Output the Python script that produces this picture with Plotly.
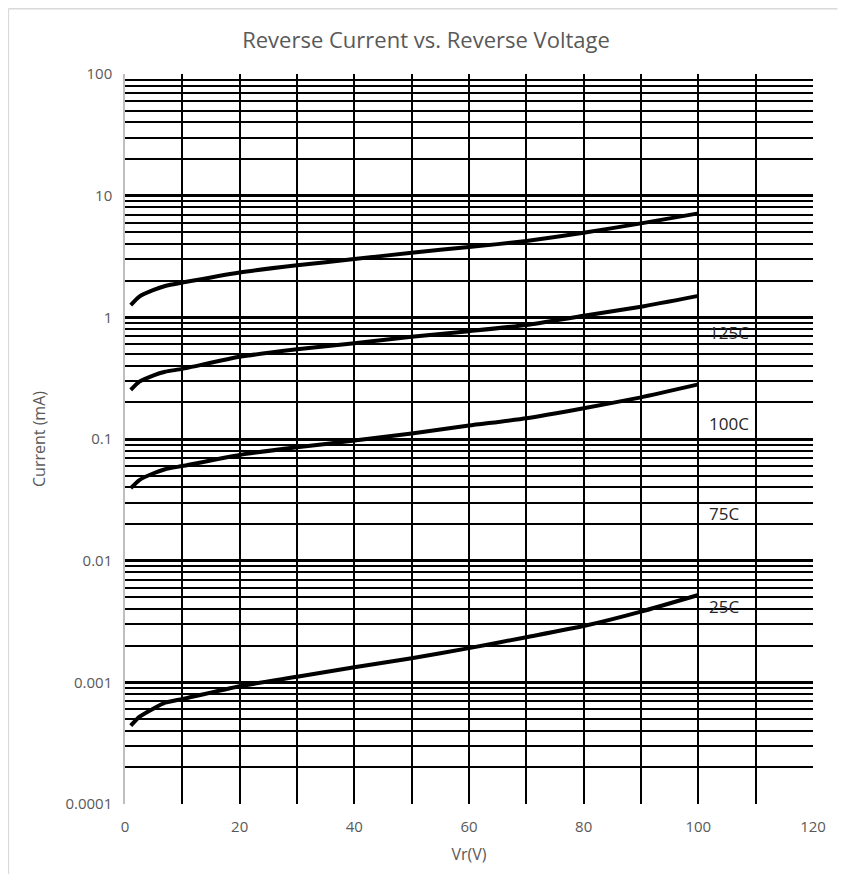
import math
import plotly.graph_objects as go

# ---- data ----
vr = [1, 2.5, 5, 7, 10, 20, 30, 40, 50, 60, 70, 80, 90, 100]
i_125 = [1.26, 1.48, 1.68, 1.81, 1.93, 2.34, 2.68, 3.01, 3.40, 3.78, 4.24, 4.95, 5.92, 7.15]
i_100 = [0.253, 0.296, 0.334, 0.357, 0.377, 0.474, 0.546, 0.611, 0.693, 0.77, 0.865, 1.03, 1.22, 1.50]
i_75 = [0.0394, 0.046, 0.0523, 0.0564, 0.060, 0.074, 0.0855, 0.097, 0.111, 0.129, 0.148, 0.179, 0.220, 0.281]
i_25 = [0.00044, 0.00052, 0.00061, 0.00068, 0.00073, 0.00093, 0.00111, 0.00133, 0.00158, 0.00191, 0.00235, 0.0029, 0.00381, 0.00522]

series_values = [i_125, i_100, i_75, i_25]

label_texts = ["125C", "100C", "75C", "25C"]
label_x = [101.5, 101.5, 101.5, 101.5]
label_y = [0.746, 0.135, 0.0245, 0.00419]

x_ticks = [0, 20, 40, 60, 80, 100, 120]
y_ticks = [1e-4, 1e-3, 1e-2, 1e-1, 1, 10, 100]
y_ticktext = ["0.0001", "0.001", "0.01", "0.1", "1", "10", "100"]
y_minor = [k * 10.0 ** d for d in range(-4, 2) for k in range(2, 10)]

GRAY = "#595959"
FONT = "Open Sans"
# figure sized to fit inside the page's default 8px body margin (no scrollbars)
W, H = 830, 866

fig = go.Figure()
for vals in series_values:
    fig.add_trace(go.Scatter(
        x=vr, y=vals, mode="lines",
        line=dict(color="black", width=4, shape="spline", smoothing=0.5),
        showlegend=False, hoverinfo="skip",
    ))

for t, lx, ly in zip(label_texts, label_x, label_y):
    fig.add_annotation(x=lx, y=math.log10(ly), yref="y", xref="x", text=t, showarrow=False,
                       xanchor="left", yanchor="middle",
                       font=dict(family=FONT, size=17, color="#262626"))

# plot area (in figure pixels)
L, R, T, B = 117.4, 805.5, 66, 796
pw, ph = R - L, B - T

# outer chart-area border: only its left and top edges are inside the view
bx0 = (0.75 - L) / pw
bx1 = (W - L) / pw
by1 = (B - 0.75) / ph
by0 = (B - H) / ph
fig.add_shape(type="line", xref="paper", yref="paper", x0=bx0, x1=bx0, y0=by0, y1=by1,
              line=dict(color="#d9d9d9", width=1.5), layer="below")
fig.add_shape(type="line", xref="paper", yref="paper", x0=bx0, x1=bx1, y0=by1, y1=by1,
              line=dict(color="#d9d9d9", width=1.5), layer="below")

fig.update_layout(
    width=W, height=H,
    margin=dict(l=L, r=W - R, t=T, b=H - B, pad=0),
    paper_bgcolor="white", plot_bgcolor="white",
    title=dict(text="Reverse Current vs. Reverse Voltage", x=418 / W, xref="container",
               y=(H - 32) / H, yref="container", yanchor="middle", xanchor="center",
               font=dict(family=FONT, size=22, color=GRAY)),
    font=dict(family=FONT, color=GRAY),
)

fig.update_xaxes(
    range=[0, 120], tickvals=x_ticks, showgrid=True, gridcolor="black", gridwidth=1.5,
    minor=dict(dtick=10, tick0=0, showgrid=True, gridcolor="black", gridwidth=1.5, ticks=""),
    zeroline=False, showline=False, ticks="", ticklabelstandoff=12,
    tickfont=dict(family=FONT, size=15, color=GRAY),
    title=dict(text="Vr(V)", font=dict(family=FONT, size=16, color=GRAY), standoff=13),
)
fig.update_yaxes(
    type="log", range=[-4, 2], tickvals=y_ticks, ticktext=y_ticktext,
    showgrid=True, gridcolor="black", gridwidth=2.5,
    minor=dict(tickvals=y_minor, showgrid=True, gridcolor="black", gridwidth=1.5, ticks=""),
    zeroline=False, showline=True, linecolor="#bfbfbf", linewidth=1.5,
    ticks="", ticklabelstandoff=8,
    tickfont=dict(family=FONT, size=15, color=GRAY),
    title=dict(text="Current (mA)", font=dict(family=FONT, size=16, color=GRAY), standoff=16),
)

fig.write_html("out.html")
